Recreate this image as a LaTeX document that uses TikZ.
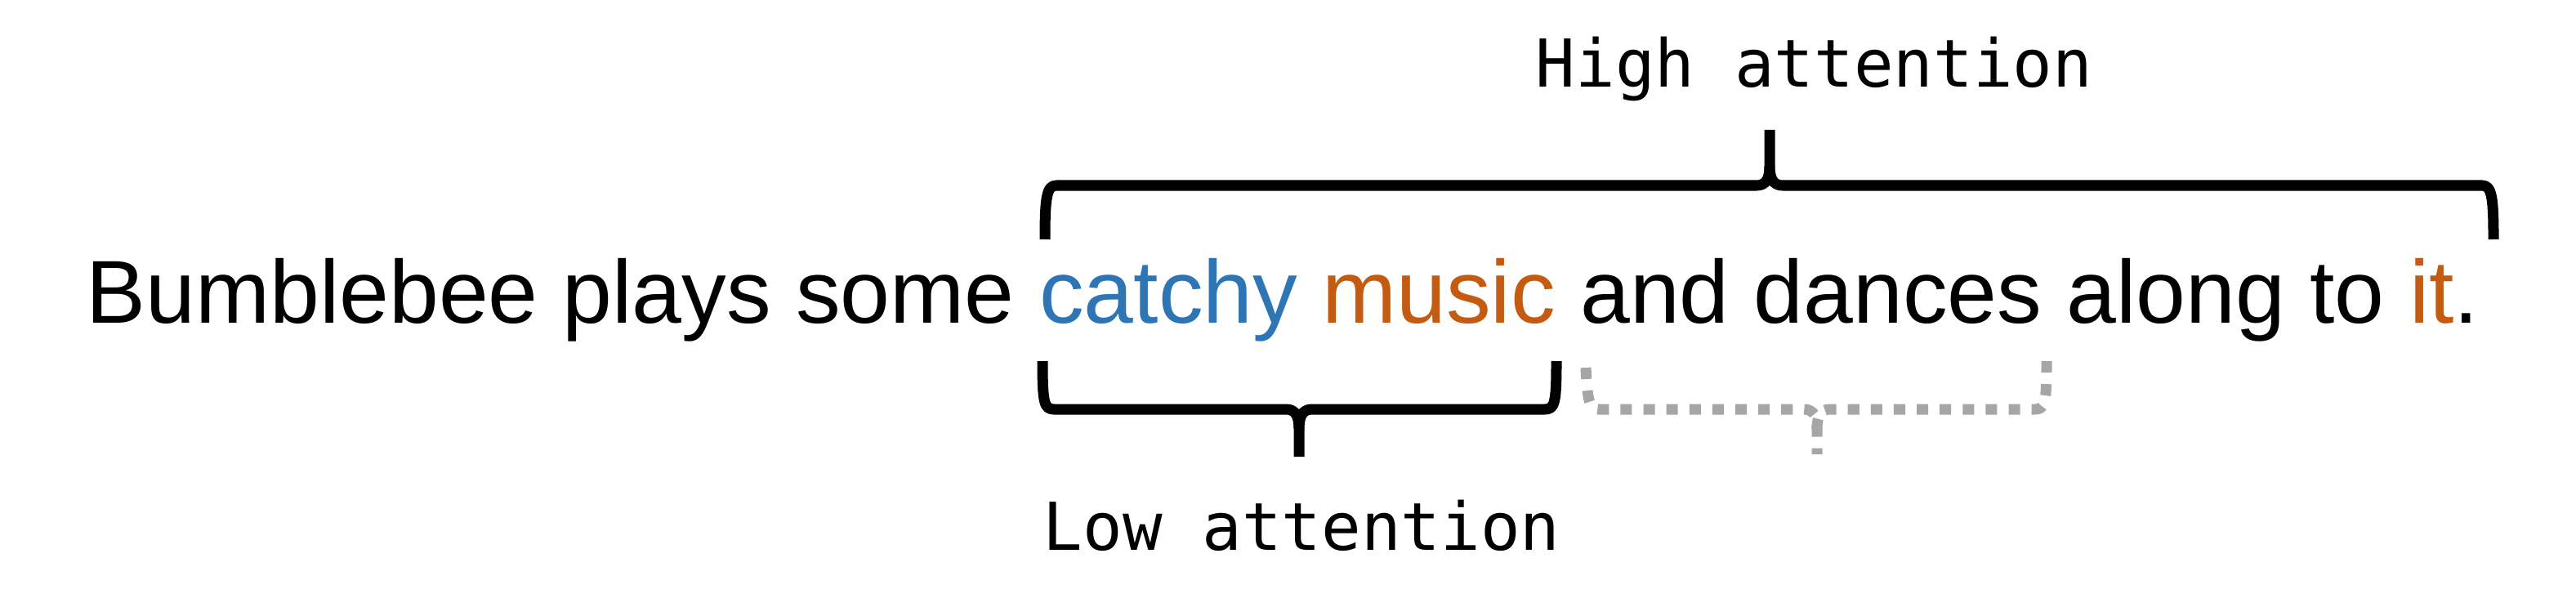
\documentclass[tikz,border=0pt]{standalone}
\usepackage{fontspec}
\setmainfont{Liberation Sans}
\newfontfamily\monofont{DejaVu Sans Mono}
\definecolor{wordblue}{HTML}{2E75B6}
\definecolor{wordorange}{HTML}{C55A11}
\definecolor{bracegray}{HTML}{A6A6A6}
\tikzset{
	bracestroke/.style={line width=3.7pt, line cap=butt, line join=round},
	ghoststroke/.style={bracestroke, draw=bracegray, dash pattern=on 4pt off 4pt},
	monolabel/.style={inner sep=0pt, anchor=base west, font=\monofont\fontsize{23}{27}\selectfont}
}
\begin{document}
\begin{tikzpicture}[x=1cm, y=-1cm]
	\useasboundingbox (0,0) rectangle (31.53,7.42);
	\node[inner sep=0pt, anchor=base west, font=\fontsize{31.1}{37}\selectfont] (sentence) at (1.05,3.95)
		{Bumblebee plays some \textcolor{wordblue}{catchy} \textcolor{wordorange}{music} and dances along to \textcolor{wordorange}{it}.};
	\node[monolabel] (high) at (18.79,1.07) {High attention};
	\node[monolabel] (low) at (12.76,6.73) {Low attention};
	% Klammer oben
	\draw[bracestroke] (12.79,2.93) .. controls (12.79,2.42) and (12.81,2.27) .. (12.93,2.27)
		-- (21.50,2.27) .. controls (21.62,2.27) and (21.66,2.18) .. (21.66,2.03) -- (21.66,1.59);
	\draw[bracestroke] (30.52,2.93) .. controls (30.52,2.42) and (30.50,2.27) .. (30.38,2.27)
		-- (21.82,2.27) .. controls (21.70,2.27) and (21.66,2.18) .. (21.66,2.03);
	% Klammer unten
	\draw[bracestroke] (12.76,4.42) .. controls (12.76,4.93) and (12.78,5.01) .. (12.90,5.01)
		-- (15.74,5.01) .. controls (15.86,5.01) and (15.90,5.10) .. (15.90,5.25) -- (15.90,5.59);
	\draw[bracestroke] (19.05,4.42) .. controls (19.05,4.93) and (19.03,5.01) .. (18.91,5.01)
		-- (16.06,5.01) .. controls (15.94,5.01) and (15.90,5.10) .. (15.90,5.25);
	% Klammer gestrichelt
	\draw[ghoststroke] (19.41,4.50) .. controls (19.43,4.90) and (19.45,5.01) .. (19.57,5.01)
		-- (22.08,5.01) .. controls (22.20,5.01) and (22.24,5.10) .. (22.24,5.25) -- (22.24,5.56);
	\draw[ghoststroke] (25.05,4.42) .. controls (25.05,4.93) and (25.03,5.01) .. (24.91,5.01)
		-- (22.40,5.01) .. controls (22.28,5.01) and (22.24,5.10) .. (22.24,5.25);
\end{tikzpicture}
\end{document}
